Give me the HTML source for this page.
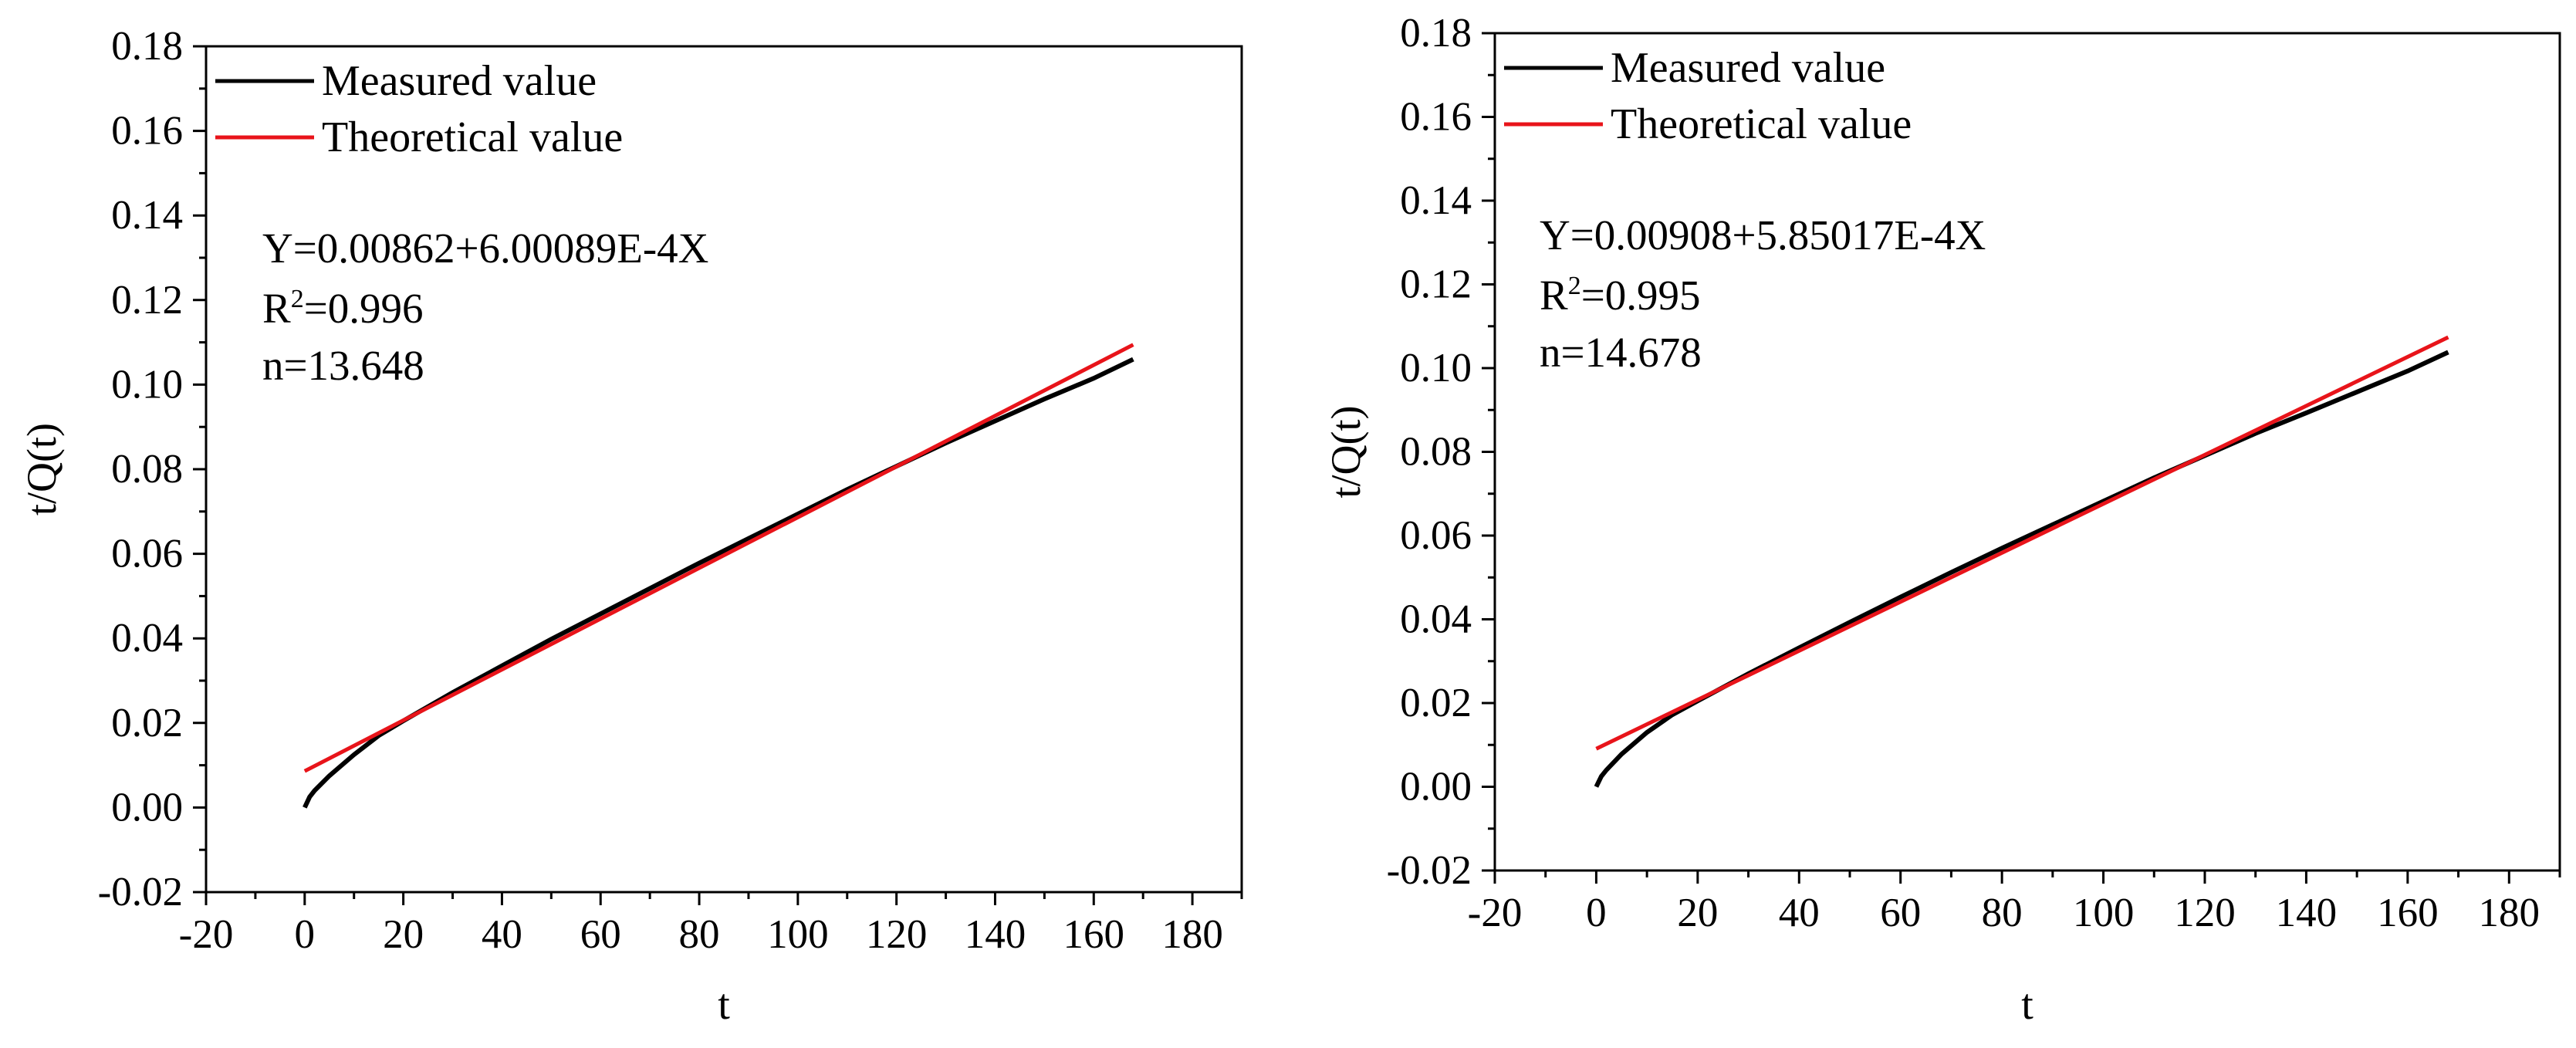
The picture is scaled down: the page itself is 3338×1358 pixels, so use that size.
<!DOCTYPE html>
<html><head><meta charset="utf-8"><style>
body{margin:0;background:#fff}
svg{display:block;font-family:"Liberation Serif",serif}
</style></head><body>
<svg id="c" width="3338" height="1358" viewBox="0 0 3338 1358"></svg>
<script>
const xTicks=[-20,0,20,40,60,80,100,120,140,160,180];
const yTicks=[-0.02,0,0.02,0.04,0.06,0.08,0.10,0.12,0.14,0.16,0.18];
const tVals=[0,1,2,5,10,15,20,30,40,50,60,70,80,90,100,110,120,130,140,150,160,168];
const measuredA=[0,0.0025,0.004,0.0075,0.0125,0.017,0.0205,0.0272,0.0335,0.0398,0.0458,0.0518,0.0578,0.0636,0.0694,0.0752,0.0807,0.0862,0.0914,0.0966,0.1015,0.106];
const measuredB=[0,0.0025,0.004,0.0078,0.013,0.0172,0.0205,0.027,0.0332,0.0393,0.0453,0.0512,0.057,0.0626,0.0682,0.0738,0.0791,0.0844,0.0893,0.0943,0.0993,0.1038];
const fitA=[0.00862,6.00089e-4];
const fitB=[0.00908,5.85017e-4];
const fitRange=[0,168];
const NS="http://www.w3.org/2000/svg";
const svg=document.getElementById('c');
function el(tag,attrs,parent,text){const e=document.createElementNS(NS,tag);for(const k in attrs)e.setAttribute(k,attrs[k]);if(text!==undefined)e.textContent=text;(parent||svg).appendChild(e);return e;}
function panel(P,measured,fit,eq,r2,n,id){
  const g=el('g',{});
  
  
  const X=v=>P.l+(v-(-20))/(190-(-20))*(P.r-P.l);
  const Y=v=>P.b-(v-(-0.02))/(0.18-(-0.02))*(P.b-P.t);
  for(let v=-20;v<=190;v+=10){if(v%20!==0){const t=el('line',{x1:X(v),x2:X(v),y1:P.b,y2:P.b+9,stroke:'#000','stroke-width':3},g);}}
  for(let i=-2;i<=18;i++){if(i%2!==0){const v=i/100;const t=el('line',{x1:P.l-9,x2:P.l,y1:Y(v),y2:Y(v),stroke:'#000','stroke-width':3},g);}}
  xTicks.forEach(v=>{
    const t=el('line',{x1:X(v),x2:X(v),y1:P.b,y2:P.b+17,stroke:'#000','stroke-width':3},g);
    
    const l=el('text',{x:X(v),y:P.b+72,'font-size':53,'text-anchor':'middle'},g,String(v));
    
  });
  yTicks.forEach(v=>{
    const t=el('line',{x1:P.l-17,x2:P.l,y1:Y(v),y2:Y(v),stroke:'#000','stroke-width':3},g);
    
    const l=el('text',{x:P.l-30,y:Y(v)+17,'font-size':53,'text-anchor':'end'},g,v.toFixed(2));
    
  });
  const fr=el('rect',{x:P.l,y:P.t,width:P.r-P.l,height:P.b-P.t,fill:'none',stroke:'#000','stroke-width':3},g);
  
  const th=el('line',{x1:X(fitRange[0]),y1:Y(fit[0]+fit[1]*fitRange[0]),x2:X(fitRange[1]),y2:Y(fit[0]+fit[1]*fitRange[1]),stroke:'#e8141a','stroke-width':5},g);
  
  const ms=el('polyline',{points:tVals.map((t,i)=>X(t)+','+Y(measured[i])).join(' '),fill:'none',stroke:'#000','stroke-width':6},g);
  
  g.appendChild(th);
  const l1=el('line',{x1:P.l+12,x2:P.l+140,y1:P.t+45,y2:P.t+45,stroke:'#000','stroke-width':5},g);
  
  const t1=el('text',{x:P.l+150,y:P.t+63,'font-size':56},g,'Measured value');
  
  const l2=el('line',{x1:P.l+12,x2:P.l+140,y1:P.t+118,y2:P.t+118,stroke:'#e8141a','stroke-width':5},g);
  
  const t2=el('text',{x:P.l+150,y:P.t+136,'font-size':56},g,'Theoretical value');
  
  const a1=el('text',{x:P.ax,y:P.t+280,'font-size':55},g,eq);
  
  const a2=el('text',{x:P.ax,y:P.t+358,'font-size':55},g);
  
  el('tspan',{},a2,'R');el('tspan',{dy:-20,'font-size':34},a2,'2');el('tspan',{dy:20},a2,'='+r2);
  const a3=el('text',{x:P.ax,y:P.t+432,'font-size':55},g,'n='+n);
  
  const xl=el('text',{x:(P.l+P.r)/2,y:1320,'font-size':56,'text-anchor':'middle'},g,'t');
  
  const cy=(P.t+P.b)/2;
  const yl=el('text',{x:P.yl,y:cy,'font-size':54,'text-anchor':'middle',transform:`rotate(-90 ${P.yl} ${cy})`},g,'t/Q(t)');
  
}
panel({l:267,r:1609,t:60,b:1156,ax:340,yl:72},measuredA,fitA,'Y=0.00862+6.00089E-4X','0.996','13.648','left');
panel({l:1937,r:3317,t:43,b:1128,ax:1995,yl:1762},measuredB,fitB,'Y=0.00908+5.85017E-4X','0.995','14.678','right');
</script>
</body></html>
